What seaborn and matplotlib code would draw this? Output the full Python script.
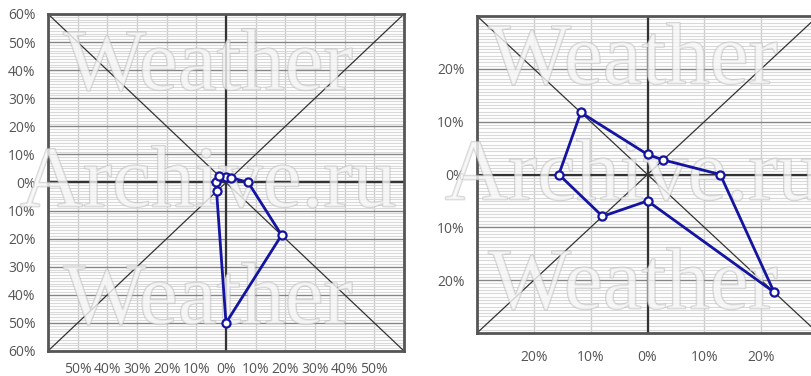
import numpy as np
import pandas as pd
import matplotlib
matplotlib.use("Agg")
import matplotlib.pyplot as plt
import matplotlib.patheffects as pe
import seaborn as sns

# Wind directions and frequency (%) for the two roses
directions = ["N", "NE", "E", "SE", "S", "SW", "W", "NW"]
angles_deg = [0, 45, 90, 135, 180, 225, 270, 315]
left_values = [2.0, 2.5, 7.5, 26.5, 50.0, 4.5, 3.5, 3.5]
right_values = [3.8, 3.9, 12.8, 31.5, 5.0, 11.2, 15.6, 16.6]

left_ticks = [-60, -50, -40, -30, -20, -10, 0, 10, 20, 30, 40, 50, 60]
left_xticks = [-50, -40, -30, -20, -10, 0, 10, 20, 30, 40, 50]
right_ticks = [-20, -10, 0, 10, 20]

sns.set_theme(style="white")
plt.rcParams["font.family"] = ["Open Sans", "DejaVu Sans"]

LINE = "#1414a0"


def rose_frame(values):
    df = pd.DataFrame({"dir": directions, "ang": angles_deg, "val": values})
    th = np.deg2rad(df["ang"].to_numpy())
    df["x"] = df["val"] * np.sin(th)
    df["y"] = df["val"] * np.cos(th)
    closed = pd.concat([df, df.iloc[[0]]], ignore_index=True)
    return df, closed


def fmt(v):
    return f"{abs(int(v))}%"


def draw(ax, values, lim, yticks, xticks, minor_step, xpad):
    ax.set_xlim(-lim, lim)
    ax.set_ylim(-lim, lim)
    ax.set_yticks(np.arange(-lim, lim + 0.001, minor_step), minor=True)
    ax.set_yticks(yticks)
    ax.set_xticks(xticks)
    ax.grid(which="minor", axis="y", color="#d9d9d9", lw=0.8)
    ax.grid(which="major", axis="y", color="#858585", lw=1.0)
    ax.grid(which="major", axis="x", color="#cccccc", lw=1.0)
    ax.set_axisbelow(True)
    ax.set_yticklabels([fmt(v) for v in yticks])
    ax.set_xticklabels([fmt(v) for v in xticks])
    ax.tick_params(axis="both", which="both", length=0, colors="#555555", labelsize=10)
    ax.tick_params(axis="y", pad=9)
    ax.tick_params(axis="x", pad=xpad)
    for s in ax.spines.values():
        s.set_color("#555555")
        s.set_linewidth(2)
    ax.axhline(0, color="#333333", lw=1.6, zorder=2)
    ax.axvline(0, color="#333333", lw=1.6, zorder=2)
    ax.plot([0, 1], [0, 1], transform=ax.transAxes, color="#333333", lw=0.9, zorder=2)
    ax.plot([0, 1], [1, 0], transform=ax.transAxes, color="#333333", lw=0.9, zorder=2)

    pts, closed = rose_frame(values)
    sns.lineplot(data=closed, x="x", y="y", sort=False, estimator=None,
                 color=LINE, lw=2, ax=ax, zorder=4)
    sns.scatterplot(data=pts, x="x", y="y", ax=ax, s=34, color="white",
                    edgecolor=LINE, linewidth=1.6, zorder=5)
    ax.set_xlabel("")
    ax.set_ylabel("")


fig = plt.figure(figsize=(8.11, 3.76), dpi=100)
ax1 = fig.add_axes([48 / 811, 1 - 351 / 376, 356 / 811, 337 / 376])
ax2 = fig.add_axes([477 / 811, 1 - 333 / 376, 341 / 811, 317 / 376])

draw(ax1, left_values, 60, left_ticks, left_xticks, 1.0, 8)
draw(ax2, right_values, 30, right_ticks, right_ticks, 0.625, 12)

# watermark
wm_effects = [pe.withStroke(linewidth=1.2, foreground=(0.70, 0.70, 0.70, 0.55))]
for ax, xc, ys in [(ax1, 208, (68, 185, 302)), (ax2, 633, (62, 178, 287))]:
    for txt, y in zip(["Weather", "Archive.ru", "Weather"], ys):
        ax.text(xc / 811, 1 - y / 376, txt, transform=fig.transFigure,
                ha="center", va="center", fontsize=63,
                family="Liberation Serif", color=(0.97, 0.97, 0.97, 0.55),
                path_effects=wm_effects, zorder=3, clip_on=False)

fig.savefig("out.png", dpi=100)
